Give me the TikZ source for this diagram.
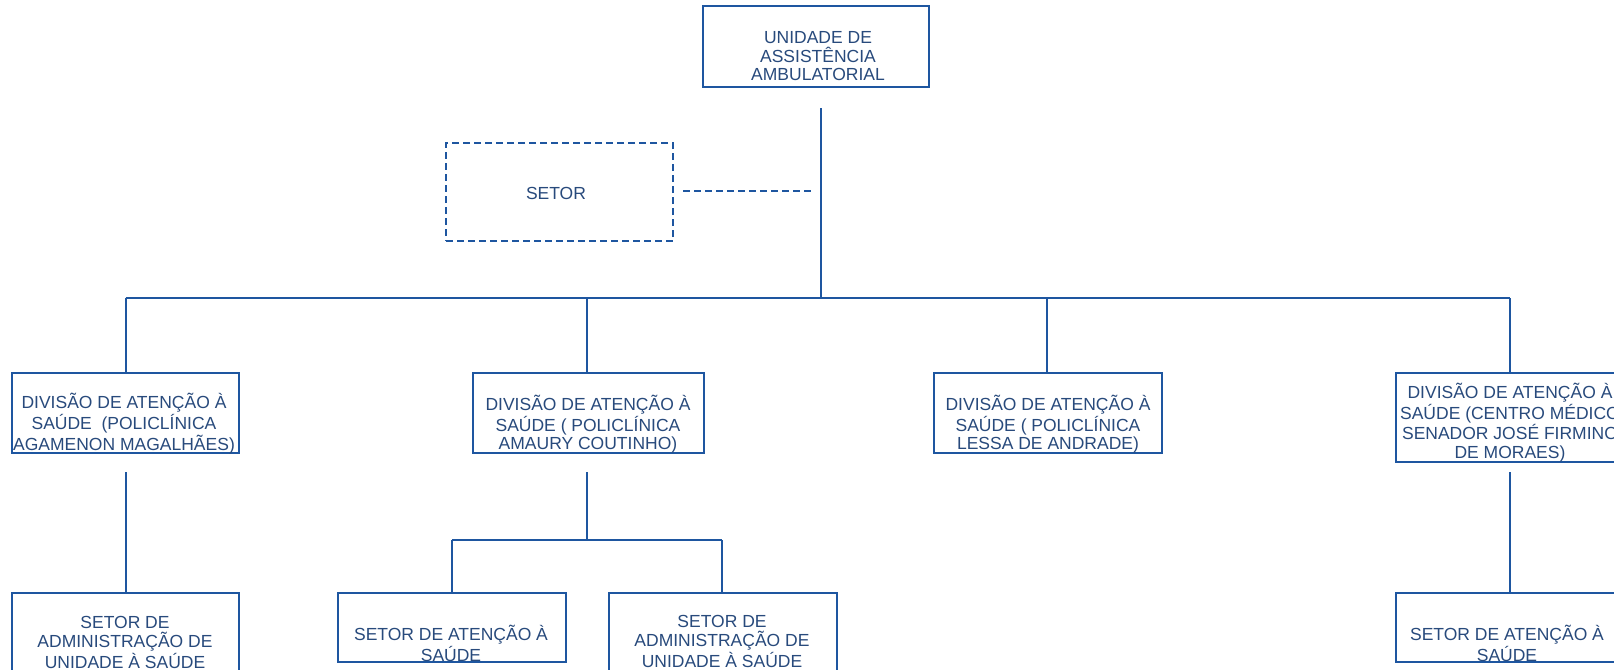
\documentclass[tikz,border=0pt]{standalone}
\usepackage{fontspec}
\setmainfont{Liberation Sans}
\definecolor{linec}{HTML}{1E56A0}
\definecolor{textc}{HTML}{284A7C}
\begin{document}
\begin{tikzpicture}[x=0.5pt,y=-0.5pt,
  box/.style={draw=linec, line width=1pt, rectangle, inner sep=0pt},
  dashbox/.style={box, dash pattern=on 3.5pt off 2pt},
  lbl/.style={text=textc, font=\fontsize{8.75pt}{9.25pt}\selectfont, align=center, inner sep=0pt},
  conn/.style={draw=linec, line width=1pt},
  dashconn/.style={conn, dash pattern=on 3.5pt off 2pt}]
\useasboundingbox (0,0) rectangle (1614,670);
\clip (0,0) rectangle (1614,670);
\fill[white] (0,0) rectangle (1614,670);

% boxes
\node[box, minimum width=113pt, minimum height=40.5pt] (top) at (816,46.5) {};
\node[dashbox, minimum width=113.5pt, minimum height=49pt] (setor) at (559.5,192) {};
\node[box, minimum width=113.5pt, minimum height=40pt] (div1) at (125.5,413) {};
\node[box, minimum width=115.5pt, minimum height=40pt] (div2) at (588.5,413) {};
\node[box, minimum width=114pt, minimum height=40pt] (div3) at (1048,413) {};
\node[box, minimum width=114pt, minimum height=44.5pt] (div4) at (1510,417.5) {};
\node[box, minimum width=113.5pt, minimum height=48.5pt] (c1) at (125.5,641.5) {};
\node[box, minimum width=114pt, minimum height=34.5pt] (c21) at (452,627.5) {};
\node[box, minimum width=114pt, minimum height=48.5pt] (c22) at (723,641.5) {};
\node[box, minimum width=114pt, minimum height=34.5pt] (c4) at (1510,627.5) {};

% texts
\node[lbl] (top-t) at (818,56.5) {UNIDADE DE\\ASSISTÊNCIA\\AMBULATORIAL};
\node[lbl] (setor-t) at (556,193) {SETOR};
\node[lbl] (div1-t) at (124,424) {DIVISÃO DE ATENÇÃO À\\SAÚDE \ (POLICLÍNICA\\AGAMENON MAGALHÃES)};
\node[lbl] (div2-t) at (588,424) {DIVISÃO DE ATENÇÃO À\\SAÚDE ( POLICLÍNICA\\AMAURY COUTINHO)};
\node[lbl] (div3-t) at (1048,424) {DIVISÃO DE ATENÇÃO À\\SAÚDE ( POLICLÍNICA\\LESSA DE ANDRADE)};
\node[lbl] (div4-t) at (1510,422.5) {DIVISÃO DE ATENÇÃO À\\SAÚDE (CENTRO MÉDICO\\SENADOR JOSÉ FIRMINO\\DE MORAES)};
\node[lbl] (c1-t) at (125,642.5) {SETOR DE\\ADMINISTRAÇÃO DE\\UNIDADE À SAÚDE};
\node[lbl] (c21-t) at (451,643) {SETOR DE ATENÇÃO À\\SAÚDE};
\node[lbl] (c22-t) at (722,641.5) {SETOR DE\\ADMINISTRAÇÃO DE\\UNIDADE À SAÚDE};
\node[lbl] (c4-t) at (1507,643.5) {SETOR DE ATENÇÃO À\\SAÚDE};

% connector coordinates
\coordinate (v0) at (821,108);
\coordinate (bus) at (821,298);
\coordinate (b1) at (125.5,298);
\coordinate (b2) at (586.7,298);
\coordinate (b3) at (1047,298);
\coordinate (b4) at (1510,298);
\coordinate (d1) at (125.5,472);
\coordinate (d2) at (586.7,472);
\coordinate (d4) at (1510,472);
\coordinate (s2) at (586.7,540);
\coordinate (s2a) at (452,540);
\coordinate (s2b) at (722,540);
\coordinate (ds0) at (683,191);
\coordinate (ds1) at (812,191);

% connectors
\draw[conn] (v0) -- (bus);
\draw[conn] (b1) -- (b4);
\draw[conn] (b1) -- (div1.north);
\draw[conn] (b2) -- (b2 |- div2.north);
\draw[conn] (b3) -- (b3 |- div3.north);
\draw[conn] (b4) -- (div4.north);
\draw[conn] (d1) -- (c1.north);
\draw[conn] (d2) -- (s2);
\draw[conn] (s2a) -- (s2b);
\draw[conn] (s2a) -- (s2a |- c21.north);
\draw[conn] (s2b) -- (s2b |- c22.north);
\draw[conn] (d4) -- (c4.north);
\draw[dashconn] (ds0) -- (ds1);
\end{tikzpicture}
\end{document}
